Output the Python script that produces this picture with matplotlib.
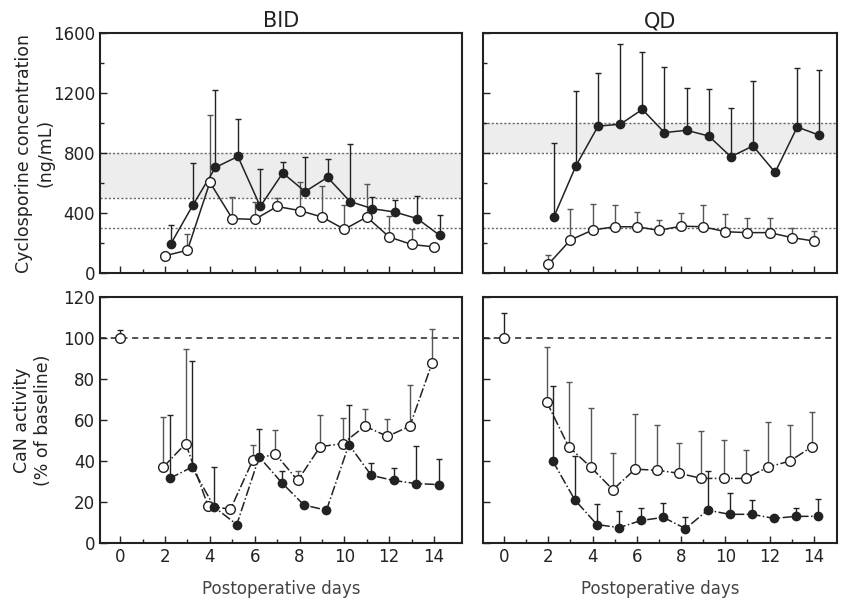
import numpy as np
import matplotlib
matplotlib.use("Agg")
import matplotlib.pyplot as plt

# postoperative days with samples
days = np.arange(2, 15)

# cyclosporine concentration (ng/mL): mean and upper end of error bar
bid_conc_open = [117, 154, 606, 364, 359, 445, 418, 375, 293, 375, 242, 192, 176]
bid_conc_open_top = [117, 264, 1051, 507, 476, 500, 608, 584, 456, 595, 381, 297, 176]
bid_conc_filled = [194, 456, 705, 778, 445, 668, 544, 639, 478, 430, 408, 364, 253]
bid_conc_filled_top = [324, 732, 1218, 1025, 694, 738, 771, 760, 859, 507, 491, 518, 390]

qd_conc_open = [60, 222, 288, 310, 310, 286, 314, 310, 277, 271, 271, 238, 215]
qd_conc_open_top = [121, 430, 463, 452, 408, 352, 403, 452, 397, 368, 368, 302, 280]
qd_conc_filled = [375, 716, 980, 992, 1091, 937, 952, 914, 776, 848, 672, 974, 919]
qd_conc_filled_top = [870, 1212, 1333, 1527, 1470, 1371, 1234, 1229, 1102, 1278, 672, 1366, 1350]

# CaN activity (% of baseline)
bid_can_open = [37, 48.5, 18, 16.5, 40.5, 43.5, 30.5, 47, 48.5, 57, 52, 57, 88]
bid_can_open_top = [61.7, 94.6, 18, 16.5, 48, 55, 35, 62.2, 60.9, 65.4, 60.6, 77, 104.2]
bid_can_filled = [31.5, 37, 17.5, 9, 42, 29.5, 18.5, 16, 48, 33, 30.5, 29, 28.5]
bid_can_filled_top = [62.2, 88.6, 36.9, 9, 55.7, 35.2, 18.5, 16, 67.3, 38.9, 36.5, 47.3, 41]

qd_can_open = [69, 47, 37, 26, 36, 35.5, 34, 31.5, 31.5, 31.5, 37, 40, 47]
qd_can_open_top = [95.8, 78.5, 65.9, 43.8, 63, 57.4, 49, 54.5, 50.2, 45.3, 59, 57.4, 63.8]
qd_can_filled = [40, 21, 9, 7.5, 11, 12.5, 7, 16, 14, 14, 12, 13, 13]
qd_can_filled_top = [76.6, 42.2, 18.9, 15.4, 17.3, 19.7, 12.8, 35, 24.2, 20.8, 12.8, 17, 21.3]

# baseline at day 0
baseline_day = [0]
bid_base, bid_base_top = [100], [104]
qd_base, qd_base_top = [100], [112]

# target ranges drawn as dotted lines
bid_ref_lines = [800, 500, 300]
bid_band = (500, 800)
qd_ref_lines = [1000, 800, 300]
qd_band = (800, 1000)

FILLED_SHIFT = 0.25
INK = "#222222"

fig = plt.figure(figsize=(8.44, 6.01), dpi=100)
ax_tl = fig.add_axes([0.1185, 0.5452, 0.429, 0.4000])
ax_tr = fig.add_axes([0.5723, 0.5452, 0.4195, 0.4000])
ax_bl = fig.add_axes([0.1185, 0.0965, 0.429, 0.4093])
ax_br = fig.add_axes([0.5723, 0.0965, 0.4195, 0.4093])


def style_axes(ax, ymax, ymajor, yminor, xlabels, ylabels, xlim):
    ax.set_xlim(*xlim)
    ax.set_ylim(0, ymax)
    ax.set_xticks(np.arange(0, 15, 2))
    ax.set_xticks(np.arange(0, 15, 1), minor=True)
    ax.set_yticks(np.arange(0, ymax + 1, ymajor))
    ax.set_yticks(np.arange(0, ymax + 1, yminor), minor=True)
    ax.tick_params(which="both", direction="in", color=INK, labelcolor=INK,
                   labelsize=12, width=1)
    ax.tick_params(which="major", length=5)
    ax.tick_params(which="minor", length=3)
    if not xlabels:
        ax.set_xticklabels([])
    if not ylabels:
        ax.set_yticklabels([])
    for s in ax.spines.values():
        s.set_linewidth(1.5)
        s.set_color(INK)


def draw_series(ax, x, y, top, filled, ls, ecolor):
    y = np.asarray(y, float)
    up = np.clip(np.asarray(top, float) - y, 0, None)
    ax.errorbar(x, y, yerr=[np.zeros_like(up), up], fmt="none",
                ecolor=ecolor, elinewidth=1, capsize=2, capthick=1, zorder=2)
    ax.plot(x, y, ls=ls, color=INK, lw=1.1, zorder=3)
    ax.plot(x, y, "o", ms=6 if filled else 7,
            mfc=INK if filled else "white", mec=INK, mew=1, zorder=4)


# --- top: cyclosporine concentration ---
for ax, band, refs, o, ot, f, ft, title in [
        (ax_tl, bid_band, bid_ref_lines, bid_conc_open, bid_conc_open_top,
         bid_conc_filled, bid_conc_filled_top, "BID"),
        (ax_tr, qd_band, qd_ref_lines, qd_conc_open, qd_conc_open_top,
         qd_conc_filled, qd_conc_filled_top, "QD")]:
    ax.axhspan(*band, color="#ededed", lw=0, zorder=0)
    for r in refs:
        ax.axhline(r, color="#666666", lw=1, ls=(0, (1.5, 1.5)), zorder=1)
    draw_series(ax, days, o, ot, False, "-", "#555555")
    draw_series(ax, days + FILLED_SHIFT, f, ft, True, "-", INK)
    ax.set_title(title, fontsize=15, color=INK, pad=4)

style_axes(ax_tl, 1600, 400, 200, False, True, (-0.9, 15.25))
style_axes(ax_tr, 1600, 400, 200, False, False, (-0.95, 15.05))
ax_tl.set_ylabel("Cyclosporine concentration\n(ng/mL)", fontsize=12.5,
                 color=INK, labelpad=-1)

# --- bottom: CaN activity ---
for ax, base, base_top, o, ot, f, ft in [
        (ax_bl, bid_base, bid_base_top, bid_can_open, bid_can_open_top,
         bid_can_filled, bid_can_filled_top),
        (ax_br, qd_base, qd_base_top, qd_can_open, qd_can_open_top,
         qd_can_filled, qd_can_filled_top)]:
    ax.axhline(100, color=INK, lw=1.1, ls=(0, (4, 3)), zorder=1)
    draw_series(ax, baseline_day, base, base_top, False, "none", INK)
    draw_series(ax, days - 0.08, o, ot, False, "-.", "#555555")
    draw_series(ax, days + FILLED_SHIFT - 0.05, f, ft, True, "-.", INK)
    ax.set_xlabel("Postoperative days", fontsize=12, color="#444444",
                  labelpad=10)

style_axes(ax_bl, 120, 20, 20, True, True, (-0.9, 15.25))
style_axes(ax_br, 120, 20, 20, True, False, (-0.95, 15.05))
ax_bl.set_ylabel("CaN activity\n(% of baseline)", fontsize=12.5,
                 color=INK, labelpad=8)

fig.savefig("out.png", dpi=100)
